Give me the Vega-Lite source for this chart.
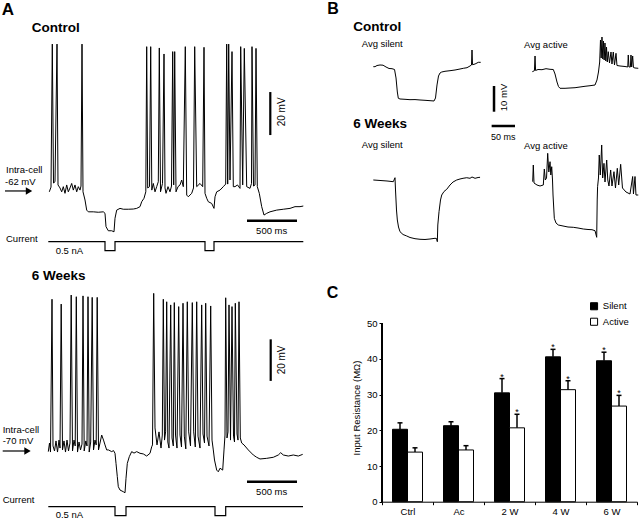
{
"$schema": "https://vega.github.io/schema/vega-lite/v6.json",
"padding": 0,
"background": "white",
"config": {"view": {"stroke": null}, "font": "Liberation Sans", "text": {"font": "Liberation Sans", "color": "black"}},
"datasets": {
"ctrlV": [{"t":13,"v":-62.4},{"t":30,"v":-60.2},{"t":43,"v":6.3},{"t":55,"v":-58.3},{"t":70,"v":-57.7},{"t":90,"v":6.3},{"t":100,"v":-59.2},{"t":120,"v":-60.6},{"t":137,"v":-62.4},{"t":153,"v":-60.0},{"t":170,"v":-63.1},{"t":187,"v":-59.2},{"t":203,"v":-62.4},{"t":220,"v":-60.6},{"t":237,"v":-58.5},{"t":253,"v":-61.6},{"t":270,"v":-59.2},{"t":287,"v":-62.4},{"t":303,"v":-60.0},{"t":320,"v":-61.6},{"t":330,"v":-59.7},{"t":340,"v":6.3},{"t":350,"v":-62.4},{"t":370,"v":-66.2},{"t":387,"v":-70.9},{"t":403,"v":-71.7},{"t":453,"v":-71.7},{"t":503,"v":-71.9},{"t":553,"v":-71.7},{"t":570,"v":-72.4},{"t":580,"v":-78.6},{"t":603,"v":-80.5},{"t":637,"v":-80.5},{"t":660,"v":-81.0},{"t":670,"v":-74.7},{"t":687,"v":-70.9},{"t":720,"v":-70.1},{"t":753,"v":-70.5},{"t":803,"v":-70.5},{"t":853,"v":-70.4},{"t":887,"v":-70.1},{"t":920,"v":-69.3},{"t":937,"v":-67.0},{"t":960,"v":-65.4},{"t":978,"v":-62.4},{"t":987,"v":5.1},{"t":997,"v":-60.6},{"t":1015,"v":-60.0},{"t":1027,"v":5.1},{"t":1038,"v":-61.6},{"t":1053,"v":-58.5},{"t":1070,"v":-62.4},{"t":1087,"v":-60.0},{"t":1103,"v":-57.7},{"t":1113,"v":4.5},{"t":1125,"v":-62.4},{"t":1145,"v":-58.5},{"t":1160,"v":1.7},{"t":1170,"v":-60.6},{"t":1180,"v":-63.1},{"t":1200,"v":-60.0},{"t":1220,"v":-62.4},{"t":1235,"v":-59.7},{"t":1247,"v":2.8},{"t":1257,"v":-59.2},{"t":1267,"v":2.8},{"t":1280,"v":-62.4},{"t":1300,"v":-60.0},{"t":1320,"v":-59.2},{"t":1337,"v":-56.9},{"t":1353,"v":-60.0},{"t":1373,"v":5.1},{"t":1387,"v":-63.9},{"t":1403,"v":-64.7},{"t":1437,"v":-63.1},{"t":1455,"v":-60.6},{"t":1467,"v":5.1},{"t":1487,"v":-60.0},{"t":1520,"v":-58.5},{"t":1547,"v":-60.0},{"t":1560,"v":4.8},{"t":1570,"v":-63.1},{"t":1587,"v":-65.4},{"t":1603,"v":-67.0},{"t":1637,"v":-67.8},{"t":1660,"v":-70.1},{"t":1670,"v":-64.7},{"t":1687,"v":-62.4},{"t":1720,"v":-61.6},{"t":1753,"v":-60.0},{"t":1777,"v":-58.8},{"t":1787,"v":6.3},{"t":1797,"v":-58.8},{"t":1807,"v":6.3},{"t":1820,"v":-56.9},{"t":1840,"v":2.8},{"t":1853,"v":-60.0},{"t":1870,"v":-60.0},{"t":1895,"v":-59.2},{"t":1920,"v":-60.8},{"t":1927,"v":5.1},{"t":1947,"v":-59.2},{"t":1963,"v":4.3},{"t":1987,"v":-60.0},{"t":2020,"v":-60.8},{"t":2035,"v":-58.5},{"t":2040,"v":5.1},{"t":2055,"v":-59.7},{"t":2070,"v":-59.2},{"t":2080,"v":4.3},{"t":2093,"v":-60.0},{"t":2113,"v":-63.1},{"t":2137,"v":-69.3},{"t":2160,"v":-73.2},{"t":2187,"v":-72.4},{"t":2220,"v":-71.7},{"t":2287,"v":-70.9},{"t":2353,"v":-70.5},{"t":2420,"v":-70.1},{"t":2470,"v":-69.3},{"t":2520,"v":-69.3},{"t":2553,"v":-69.0}],
"ctrlI": [{"t":3,"i":0},{"t":570,"i":0},{"t":570,"i":-0.5},{"t":670,"i":-0.5},{"t":670,"i":0},{"t":1570,"i":0},{"t":1570,"i":-0.5},{"t":1660,"i":-0.5},{"t":1660,"i":0},{"t":2553,"i":0}],
"wkV": [{"t":3,"v":-70.3},{"t":15,"v":-66.2},{"t":25,"v":-70.5},{"t":40,"v":2.3},{"t":50,"v":-67.6},{"t":65,"v":-70.0},{"t":80,"v":-65.2},{"t":95,"v":-70.5},{"t":110,"v":-64.8},{"t":120,"v":-68.6},{"t":132,"v":0.0},{"t":145,"v":-69.5},{"t":160,"v":-65.2},{"t":175,"v":-70.5},{"t":190,"v":-64.8},{"t":205,"v":-70.0},{"t":220,"v":-66.2},{"t":232,"v":4.3},{"t":245,"v":-70.0},{"t":260,"v":-64.8},{"t":272,"v":-67.6},{"t":283,"v":3.5},{"t":295,"v":-70.5},{"t":310,"v":-65.7},{"t":325,"v":-69.5},{"t":340,"v":-66.7},{"t":350,"v":3.9},{"t":362,"v":-70.0},{"t":378,"v":-65.2},{"t":390,"v":-67.6},{"t":400,"v":3.5},{"t":412,"v":-70.5},{"t":427,"v":-65.7},{"t":442,"v":3.2},{"t":455,"v":-69.5},{"t":470,"v":-64.8},{"t":482,"v":-67.1},{"t":492,"v":3.2},{"t":505,"v":-69.5},{"t":520,"v":-66.2},{"t":537,"v":-62.4},{"t":555,"v":-64.8},{"t":570,"v":-67.1},{"t":587,"v":-69.5},{"t":605,"v":-69.5},{"t":637,"v":-70.3},{"t":655,"v":-69.8},{"t":670,"v":-71.1},{"t":680,"v":-75.9},{"t":693,"v":-82.2},{"t":703,"v":-87.0},{"t":720,"v":-88.6},{"t":753,"v":-89.4},{"t":770,"v":-89.9},{"t":780,"v":-83.0},{"t":793,"v":-75.9},{"t":813,"v":-72.7},{"t":837,"v":-70.3},{"t":860,"v":-71.0},{"t":887,"v":-70.3},{"t":920,"v":-71.1},{"t":953,"v":-71.4},{"t":987,"v":-72.4},{"t":1020,"v":-71.1},{"t":1037,"v":-68.0},{"t":1045,"v":-67.1},{"t":1057,"v":5.1},{"t":1070,"v":-59.0},{"t":1090,"v":-67.1},{"t":1110,"v":-60.9},{"t":1130,"v":-68.6},{"t":1143,"v":-62.4},{"t":1153,"v":2.3},{"t":1165,"v":-64.8},{"t":1176,"v":-60.9},{"t":1187,"v":1.1},{"t":1198,"v":-65.7},{"t":1210,"v":-68.6},{"t":1227,"v":-0.4},{"t":1240,"v":-63.8},{"t":1253,"v":-67.6},{"t":1263,"v":0.7},{"t":1275,"v":-62.4},{"t":1290,"v":-68.6},{"t":1307,"v":-1.2},{"t":1320,"v":-62.4},{"t":1335,"v":-68.1},{"t":1350,"v":0.4},{"t":1363,"v":-62.9},{"t":1378,"v":-69.0},{"t":1393,"v":1.1},{"t":1407,"v":-60.9},{"t":1425,"v":-67.6},{"t":1443,"v":0.7},{"t":1457,"v":-60.9},{"t":1473,"v":-68.1},{"t":1487,"v":1.1},{"t":1500,"v":-62.9},{"t":1520,"v":-68.6},{"t":1537,"v":-0.4},{"t":1550,"v":-61.9},{"t":1565,"v":-66.2},{"t":1577,"v":0.4},{"t":1590,"v":-62.9},{"t":1610,"v":-67.6},{"t":1627,"v":-0.9},{"t":1640,"v":-64.8},{"t":1653,"v":-69.5},{"t":1665,"v":-74.3},{"t":1687,"v":-79.1},{"t":1703,"v":-79.9},{"t":1720,"v":-78.2},{"t":1747,"v":-79.1},{"t":1760,"v":-69.5},{"t":1770,"v":-62.4},{"t":1777,"v":3.0},{"t":1790,"v":-63.8},{"t":1800,"v":-60.9},{"t":1810,"v":-0.4},{"t":1825,"v":-64.8},{"t":1840,"v":-1.2},{"t":1855,"v":-62.9},{"t":1865,"v":-65.7},{"t":1873,"v":0.4},{"t":1890,"v":-61.9},{"t":1900,"v":-64.8},{"t":1910,"v":1.1},{"t":1923,"v":-63.8},{"t":1937,"v":-66.2},{"t":1960,"v":-67.1},{"t":2003,"v":-69.5},{"t":2053,"v":-71.9},{"t":2087,"v":-73.0},{"t":2120,"v":-73.8},{"t":2187,"v":-73.5},{"t":2253,"v":-73.0},{"t":2303,"v":-71.9},{"t":2327,"v":-70.8},{"t":2353,"v":-71.9},{"t":2403,"v":-72.4},{"t":2453,"v":-71.9},{"t":2503,"v":-72.4},{"t":2547,"v":-71.6}],
"wkI": [{"t":3,"i":0},{"t":670,"i":0},{"t":670,"i":-0.5},{"t":780,"i":-0.5},{"t":780,"i":0},{"t":1670,"i":0},{"t":1670,"i":-0.5},{"t":1777,"i":-0.5},{"t":1777,"i":0},{"t":2550,"i":0}],
"bCS": [{"t":0,"v":0.51},{"t":3.6,"v":0.51},{"t":7.9,"v":0.97},{"t":14.3,"v":1.17},{"t":20.8,"v":1.09},{"t":27.2,"v":0.39},{"t":33.6,"v":-0.19},{"t":40.0,"v":-0.27},{"t":45.4,"v":-0.58},{"t":48.6,"v":-3.89},{"t":51.4,"v":-9.34},{"t":53.5,"v":-11.79},{"t":57.1,"v":-12.06},{"t":67.8,"v":-12.18},{"t":78.5,"v":-12.33},{"t":89.2,"v":-12.29},{"t":99.9,"v":-12.45},{"t":110.6,"v":-12.57},{"t":121.3,"v":-12.72},{"t":129.9,"v":-12.84},{"t":133.1,"v":-11.67},{"t":136.3,"v":-6.61},{"t":139.5,"v":-3.11},{"t":142.7,"v":-1.95},{"t":146.4,"v":-1.56},{"t":153.4,"v":-1.28},{"t":164.1,"v":-1.05},{"t":174.8,"v":-0.78},{"t":185.5,"v":-0.39},{"t":192.6,"v":-0.12},{"t":200.5,"v":0.12},{"t":206.9,"v":0.78},{"t":210.1,"v":1.17},{"t":211.2,"v":7.0},{"t":212.3,"v":1.28},{"t":217.7,"v":1.56},{"t":224.7,"v":2.21},{"t":229.8,"v":2.21}],
"bCA": [{"t":-0.4,"v":-0.66},{"t":4.1,"v":-0.27},{"t":5.4,"v":5.45},{"t":6.6,"v":-0.19},{"t":11.8,"v":0.19},{"t":20.3,"v":0.12},{"t":28.9,"v":0.51},{"t":37.5,"v":0.27},{"t":44.5,"v":0.19},{"t":48.2,"v":-1.56},{"t":52.4,"v":-4.67},{"t":55.6,"v":-6.42},{"t":58.9,"v":-7.12},{"t":69.6,"v":-7.12},{"t":80.3,"v":-7.0},{"t":91.0,"v":-6.89},{"t":101.7,"v":-6.61},{"t":112.4,"v":-6.34},{"t":123.1,"v":-6.11},{"t":133.8,"v":-5.84},{"t":138.0,"v":-3.89},{"t":141.2,"v":-0.78},{"t":143.8,"v":3.11},{"t":145.5,"v":11.67},{"t":147.0,"v":4.67},{"t":148.7,"v":12.84},{"t":150.4,"v":4.28},{"t":151.9,"v":11.28},{"t":153.4,"v":3.89},{"t":155.1,"v":10.51},{"t":156.9,"v":3.5},{"t":158.4,"v":8.95},{"t":160.1,"v":3.11},{"t":162.2,"v":7.12},{"t":164.8,"v":2.72},{"t":168.0,"v":7.0},{"t":170.1,"v":2.33},{"t":172.9,"v":7.0},{"t":175.5,"v":1.95},{"t":178.7,"v":6.5},{"t":180.8,"v":1.75},{"t":187.3,"v":1.56},{"t":198.0,"v":1.36},{"t":203.9,"v":1.17},{"t":205.0,"v":5.84},{"t":206.5,"v":1.17},{"t":209.5,"v":1.17},{"t":210.8,"v":5.84},{"t":212.3,"v":1.17},{"t":214.4,"v":5.45},{"t":216.1,"v":0.97},{"t":219.3,"v":0.78},{"t":226.4,"v":0.66}],
"bWS": [{"t":0,"v":0},{"t":14.3,"v":-0.19},{"t":29.3,"v":-0.39},{"t":42.8,"v":-0.66},{"t":46.4,"v":0.89},{"t":47.5,"v":-3.89},{"t":49.6,"v":-11.67},{"t":51.4,"v":-15.56},{"t":53.9,"v":-18.29},{"t":57.1,"v":-20.12},{"t":63.6,"v":-21.21},{"t":71.5,"v":-21.79},{"t":78.5,"v":-22.37},{"t":89.2,"v":-22.84},{"t":99.9,"v":-23.07},{"t":110.6,"v":-23.15},{"t":121.3,"v":-22.96},{"t":132.0,"v":-22.68},{"t":135.2,"v":-22.76},{"t":137.0,"v":-24.01},{"t":138.0,"v":-17.51},{"t":140.6,"v":-12.33},{"t":143.8,"v":-7.78},{"t":146.4,"v":-5.84},{"t":151.3,"v":-4.47},{"t":157.1,"v":-3.62},{"t":164.1,"v":-1.95},{"t":170.6,"v":-0.78},{"t":178.5,"v":0},{"t":185.5,"v":0.39},{"t":192.0,"v":0.66},{"t":199.9,"v":0.89},{"t":206.9,"v":0.66},{"t":211.2,"v":1.17},{"t":217.7,"v":0.66},{"t":224.1,"v":0.97},{"t":228.4,"v":1.05}],
"bWA": [{"t":0.4,"v":0.51},{"t":1.7,"v":7.0},{"t":3.2,"v":0},{"t":9.6,"v":-0.78},{"t":16.1,"v":-1.17},{"t":23.1,"v":-0.78},{"t":25.3,"v":5.45},{"t":27.4,"v":1.17},{"t":30.0,"v":1.95},{"t":32.5,"v":11.55},{"t":34.9,"v":4.28},{"t":37.5,"v":8.29},{"t":39.2,"v":3.11},{"t":41.1,"v":6.34},{"t":42.8,"v":1.17},{"t":43.9,"v":-4.67},{"t":46.7,"v":-13.74},{"t":50.3,"v":-15.56},{"t":55.2,"v":-16.34},{"t":65.3,"v":-16.73},{"t":76.0,"v":-17.12},{"t":87.3,"v":-17.24},{"t":97.4,"v":-17.51},{"t":108.7,"v":-17.9},{"t":118.8,"v":-18.09},{"t":127.3,"v":-18.17},{"t":133.8,"v":-18.56},{"t":137.4,"v":-21.13},{"t":138.5,"v":-6.61},{"t":139.3,"v":-1.44},{"t":141.2,"v":1.95},{"t":142.9,"v":10.89},{"t":145.1,"v":3.11},{"t":148.1,"v":14.79},{"t":150.2,"v":1.95},{"t":153.0,"v":7.65},{"t":155.2,"v":0.39},{"t":158.8,"v":8.95},{"t":161.1,"v":1.17},{"t":163.7,"v":-1.17},{"t":167.3,"v":5.06},{"t":170.1,"v":-1.17},{"t":174.4,"v":4.4},{"t":177.6,"v":-1.95},{"t":181.5,"v":5.72},{"t":184.5,"v":-0.78},{"t":188.7,"v":7.28},{"t":192.6,"v":-1.95},{"t":200.1,"v":-3.5},{"t":208.7,"v":-4.28},{"t":214.4,"v":2.53},{"t":216.1,"v":-4.28},{"t":219.4,"v":2.53},{"t":221.5,"v":-4.67},{"t":226.4,"v":-4.67}],
"res": [{"group":"Ctrl","cond":"Silent","mean":20.3,"upper":22.1,"star":""},{"group":"Ctrl","cond":"Active","mean":13.9,"upper":15.1,"star":""},{"group":"Ac","cond":"Silent","mean":21.3,"upper":22.4,"star":""},{"group":"Ac","cond":"Active","mean":14.5,"upper":15.7,"star":""},{"group":"2 W","cond":"Silent","mean":30.5,"upper":34.5,"star":"*"},{"group":"2 W","cond":"Active","mean":20.7,"upper":24.5,"star":"*"},{"group":"4 W","cond":"Silent","mean":40.6,"upper":42.7,"star":"*"},{"group":"4 W","cond":"Active","mean":31.4,"upper":33.9,"star":"*"},{"group":"6 W","cond":"Silent","mean":39.5,"upper":41.9,"star":"*"},{"group":"6 W","cond":"Active","mean":26.8,"upper":29.8,"star":"*"}]
},
"spacing": 0,
"vconcat": [
{"spacing": 0, "hconcat": [
 {"width": 320, "height": 260,
  "resolve": {"scale": {"y": "independent"}},
  "layer": [
   {"encoding": {
     "x": {"field":"t","type":"quantitative","scale":{"domain":[-480,2720],"nice":false,"zero":false},"axis":null},
     "y": {"field":"v","type":"quantitative","scale":{"domain":[-94.1,26.8],"nice":false,"zero":false},"axis":null}},
    "layer": [
     {"data":{"name":"ctrlV"},"mark":{"type":"line","color":"black","strokeWidth":1},"encoding":{"order":{"value":null}}},
     {"data":{"values":[{"t":2223,"v":-16,"v2":-36}]},"mark":{"type":"rule","color":"black","strokeWidth":2.2},"encoding":{"y2":{"field":"v2"}}},
     {"data":{"values":[{"t":1990,"t2":2490,"v":-75.85}]},"mark":{"type":"rule","color":"black","strokeWidth":2.5},"encoding":{"x2":{"field":"t2"}}},
     {"data":{"values":[{"t":-430,"t2":-190,"v":-62}]},"mark":{"type":"rule","color":"black","strokeWidth":1.2},"encoding":{"x2":{"field":"t2"}}},
     {"data":{"values":[{"t":-190,"v":-62}]},"mark":{"type":"point","shape":"triangle-right","filled":true,"color":"black","size":55,"opacity":1}},
     {"data":{"values":[{"label":"A","t":-463,"v":19.8}]},"mark":{"type":"text","align":"left","baseline":"alphabetic","fontSize":17,"fontWeight":"bold","color":"black"},"encoding":{"text":{"field":"label"}}},
     {"data":{"values":[{"label":"Control","t":-163,"v":12.15}]},"mark":{"type":"text","align":"left","baseline":"alphabetic","fontSize":13.5,"fontWeight":"bold","color":"black"},"encoding":{"text":{"field":"label"}}},
     {"data":{"values":[{"label":"Intra-cell","t":-420,"v":-53.8},{"label":"-62 mV","t":-430,"v":-59.2},{"label":"Current","t":-420,"v":-85.6},{"label":"0.5 nA","t":77,"v":-91.1}]},"mark":{"type":"text","align":"left","baseline":"alphabetic","fontSize":9.5,"color":"black"},"encoding":{"text":{"field":"label"}}},
     {"data":{"values":[{"label":"500 ms","t":2237,"v":-81.8}]},"mark":{"type":"text","align":"center","baseline":"alphabetic","fontSize":9.5,"color":"black"},"encoding":{"text":{"field":"label"}}},
     {"data":{"values":[{"label":"20 mV","t":2337,"v":-25.2}]},"mark":{"type":"text","align":"center","baseline":"middle","angle":270,"fontSize":10,"color":"black"},"encoding":{"text":{"field":"label"}}}
    ]},
   {"data":{"name":"ctrlI"},"mark":{"type":"line","color":"black","strokeWidth":1.2},
    "encoding":{"x":{"field":"t","type":"quantitative","scale":{"domain":[-480,2720],"nice":false,"zero":false},"axis":null},
     "y":{"field":"i","type":"quantitative","scale":{"domain":[-1.017,13.43],"nice":false,"zero":false},"axis":null},"order":{"value":null}}}
  ]},
 {"spacing": 0, "vconcat": [
  {"spacing": 0, "hconcat": [
   {"width":165,"height":115,
    "encoding":{"x":{"field":"t","type":"quantitative","scale":{"domain":[-114.1,239.0],"nice":false,"zero":false},"axis":null},"y":{"field":"v","type":"quantitative","scale":{"domain":[-18.29,26.46],"nice":false,"zero":false},"axis":null}},
    "layer":[
     {"data":{"name":"bCS"},"mark":{"type":"line","color":"black","strokeWidth":1},"encoding":{"order":{"value":null}}},
     {"data":{"values":[{"label":"B","t":-98.4,"v":21.0}]},"mark":{"type":"text","align":"left","baseline":"alphabetic","fontSize":16,"fontWeight":"bold","color":"black"},"encoding":{"text":{"field":"label"}}},
     {"data":{"values":[{"label":"Control","t":-42.8,"v":14.5}]},"mark":{"type":"text","align":"left","baseline":"alphabetic","fontSize":13.5,"fontWeight":"bold","color":"black"},"encoding":{"text":{"field":"label"}}},
     {"data":{"values":[{"label":"Avg silent","t":-24.8,"v":7.98}]},"mark":{"type":"text","align":"left","baseline":"alphabetic","fontSize":9.5,"color":"black"},"encoding":{"text":{"field":"label"}}}
    ]},
   {"width":155,"height":115,
    "encoding":{"x":{"field":"t","type":"quantitative","scale":{"domain":[-101.7,230.1],"nice":false,"zero":false},"axis":null},"y":{"field":"v","type":"quantitative","scale":{"domain":[-17.51,27.24],"nice":false,"zero":false},"axis":null}},
    "layer":[
     {"data":{"name":"bCA"},"mark":{"type":"line","color":"black","strokeWidth":1},"encoding":{"order":{"value":null}}},
     {"data":{"values":[{"t":-82.4,"v":-6.23,"v2":-16.23}]},"mark":{"type":"rule","color":"black","strokeWidth":2.5},"encoding":{"y2":{"field":"v2"}}},
     {"data":{"values":[{"label":"Avg active","t":-18.2,"v":8.75}]},"mark":{"type":"text","align":"left","baseline":"alphabetic","fontSize":9.5,"color":"black"},"encoding":{"text":{"field":"label"}}},
     {"data":{"values":[{"label":"10 mV","t":-61.6,"v":-10.7}]},"mark":{"type":"text","align":"center","baseline":"middle","angle":270,"fontSize":9.5,"color":"black"},"encoding":{"text":{"field":"label"}}}
    ]}
  ]},
  {"spacing": 0, "hconcat": [
   {"width":165,"height":145,
    "encoding":{"x":{"field":"t","type":"quantitative","scale":{"domain":[-114.1,239.0],"nice":false,"zero":false},"axis":null},"y":{"field":"v","type":"quantitative","scale":{"domain":[-31.13,25.29],"nice":false,"zero":false},"axis":null}},
    "layer":[
     {"data":{"name":"bWS"},"mark":{"type":"line","color":"black","strokeWidth":1},"encoding":{"order":{"value":null}}},
     {"data":{"values":[{"label":"6 Weeks","t":-42.8,"v":20.1}]},"mark":{"type":"text","align":"left","baseline":"alphabetic","fontSize":13.5,"fontWeight":"bold","color":"black"},"encoding":{"text":{"field":"label"}}},
     {"data":{"values":[{"label":"Avg silent","t":-24.8,"v":12.26}]},"mark":{"type":"text","align":"left","baseline":"alphabetic","fontSize":9.5,"color":"black"},"encoding":{"text":{"field":"label"}}}
    ]},
   {"width":155,"height":145,
    "encoding":{"x":{"field":"t","type":"quantitative","scale":{"domain":[-101.7,230.1],"nice":false,"zero":false},"axis":null},"y":{"field":"v","type":"quantitative","scale":{"domain":[-29.96,26.46],"nice":false,"zero":false},"axis":null}},
    "layer":[
     {"data":{"name":"bWA"},"mark":{"type":"line","color":"black","strokeWidth":1},"encoding":{"order":{"value":null}}},
     {"data":{"values":[{"t":-87.5,"t2":-37.5,"v":22.18}]},"mark":{"type":"rule","color":"black","strokeWidth":2.5},"encoding":{"x2":{"field":"t2"}}},
     {"data":{"values":[{"label":"Avg active","t":-18.2,"v":13.42}]},"mark":{"type":"text","align":"left","baseline":"alphabetic","fontSize":9.5,"color":"black"},"encoding":{"text":{"field":"label"}}},
     {"data":{"values":[{"label":"50 ms","t":-62.5,"v":16.73}]},"mark":{"type":"text","align":"center","baseline":"alphabetic","fontSize":9,"color":"black"},"encoding":{"text":{"field":"label"}}}
    ]}
  ]}
 ]}
]},
{"spacing": 11, "hconcat": [
 {"width": 340, "height": 259,
  "resolve": {"scale": {"y": "independent"}},
  "layer": [
   {"encoding": {
     "x": {"field":"t","type":"quantitative","scale":{"domain":[-480,2920],"nice":false,"zero":false},"axis":null},
     "y": {"field":"v","type":"quantitative","scale":{"domain":[-102.4,21.0],"nice":false,"zero":false},"axis":null}},
    "layer": [
     {"data":{"name":"wkV"},"mark":{"type":"line","color":"black","strokeWidth":1},"encoding":{"order":{"value":null}}},
     {"data":{"values":[{"t":2227,"v":-16.8,"v2":-36.6}]},"mark":{"type":"rule","color":"black","strokeWidth":2.2},"encoding":{"y2":{"field":"v2"}}},
     {"data":{"values":[{"t":1990,"t2":2490,"v":-84.6}]},"mark":{"type":"rule","color":"black","strokeWidth":2.5},"encoding":{"x2":{"field":"t2"}}},
     {"data":{"values":[{"t":-453,"t2":-205,"v":-70}]},"mark":{"type":"rule","color":"black","strokeWidth":1.2},"encoding":{"x2":{"field":"t2"}}},
     {"data":{"values":[{"t":-205,"v":-70}]},"mark":{"type":"point","shape":"triangle-right","filled":true,"color":"black","size":55,"opacity":1}},
     {"data":{"values":[{"label":"C","t":2787,"v":2.7}]},"mark":{"type":"text","align":"left","baseline":"alphabetic","fontSize":16,"fontWeight":"bold","color":"black"},"encoding":{"text":{"field":"label"}}},
     {"data":{"values":[{"label":"6 Weeks","t":-163,"v":11.7}]},"mark":{"type":"text","align":"left","baseline":"alphabetic","fontSize":13.5,"fontWeight":"bold","color":"black"},"encoding":{"text":{"field":"label"}}},
     {"data":{"values":[{"label":"Intra-cell","t":-453,"v":-61.3},{"label":"-70 mV","t":-453,"v":-66.8},{"label":"Current","t":-453,"v":-94.9},{"label":"0.5 nA","t":77,"v":-102.0}]},"mark":{"type":"text","align":"left","baseline":"alphabetic","fontSize":9.5,"color":"black"},"encoding":{"text":{"field":"label"}}},
     {"data":{"values":[{"label":"500 ms","t":2237,"v":-91.0}]},"mark":{"type":"text","align":"center","baseline":"alphabetic","fontSize":9.5,"color":"black"},"encoding":{"text":{"field":"label"}}},
     {"data":{"values":[{"label":"20 mV","t":2337,"v":-26.6}]},"mark":{"type":"text","align":"center","baseline":"middle","angle":270,"fontSize":10,"color":"black"},"encoding":{"text":{"field":"label"}}}
    ]},
   {"data":{"name":"wkI"},"mark":{"type":"line","color":"black","strokeWidth":1.2},
    "encoding":{"x":{"field":"t","type":"quantitative","scale":{"domain":[-480,2920],"nice":false,"zero":false},"axis":null},
     "y":{"field":"i","type":"quantitative","scale":{"domain":[-0.683,13.706],"nice":false,"zero":false},"axis":null},"order":{"value":null}}}
  ]},
 {"width": 255, "height": 241.7,
  "data": {"name": "res"},
  "encoding": {"x": {"field":"group","type":"nominal","sort":["Ctrl","Ac","2 W","4 W","6 W"],"scale":{"paddingInner":0,"paddingOuter":0},
     "axis":{"title":null,"labelAngle":0,"labelFontSize":9.5,"labelColor":"black","tickSize":3,"tickBand":"extent","tickColor":"black","domainColor":"black","labelPadding":2}}},
  "layer": [
   {"mark":{"type":"bar","stroke":"black","strokeWidth":1},
    "encoding":{"xOffset":{"field":"cond","sort":["Silent","Active"],"scale":{"paddingInner":0,"paddingOuter":0.7}},
     "y":{"field":"mean","type":"quantitative","scale":{"domain":[0,67.74],"nice":false},
       "axis":{"values":[0,5,10,15,20,25,30,35,40,45,50],"domain":false,"grid":false,"title":"Input Resistance (MΩ)","titleFontSize":9.5,"titleFontWeight":"normal","titleColor":"black","titlePadding":5,"titleY":147.5,"labelFontSize":9.5,"labelColor":"black","tickSize":3,"tickColor":"black","labelPadding":2}},
     "fill":{"field":"cond","sort":["Silent","Active"],"scale":{"domain":["Silent","Active"],"range":["black","white"]},
       "legend":{"orient":"none","legendX":589.3,"legendY":301.5,"title":null,"symbolType":"square","symbolSize":50,"symbolStrokeColor":"black","symbolStrokeWidth":1,"labelFontSize":9.5,"labelColor":"black","labelOffset":4,"rowPadding":3.5,"padding":0}}}},
   {"mark":{"type":"rule","color":"black","strokeWidth":1.5},
    "encoding":{"xOffset":{"field":"cond","sort":["Silent","Active"],"scale":{"paddingInner":0,"paddingOuter":0.7}},"y":{"field":"mean","type":"quantitative"},"y2":{"field":"upper"}}},
   {"mark":{"type":"tick","orient":"horizontal","color":"black","thickness":1.5,"size":5,"opacity":1},
    "encoding":{"xOffset":{"field":"cond","sort":["Silent","Active"],"scale":{"paddingInner":0,"paddingOuter":0.7}},"y":{"field":"upper","type":"quantitative"}}},
   {"mark":{"type":"text","baseline":"alphabetic","align":"center","fontSize":9,"color":"black","dy":1},
    "encoding":{"xOffset":{"field":"cond","sort":["Silent","Active"],"scale":{"paddingInner":0,"paddingOuter":0.7}},"y":{"field":"upper","type":"quantitative"},"text":{"field":"star"}}},
   {"mark":{"type":"rule","color":"black","strokeWidth":1},
    "encoding":{"x":{"datum":"Ctrl","bandPosition":0},"y":{"datum":0},"y2":{"datum":50}}}
  ]}
]}
]
}
